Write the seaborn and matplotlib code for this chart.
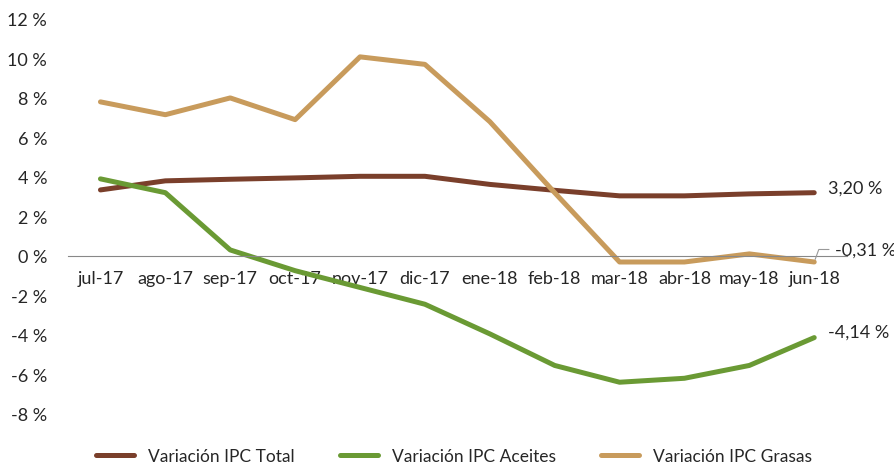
import pandas as pd
import matplotlib.pyplot as plt
import seaborn as sns

meses = ['jul-17', 'ago-17', 'sep-17', 'oct-17', 'nov-17', 'dic-17',
         'ene-18', 'feb-18', 'mar-18', 'abr-18', 'may-18', 'jun-18']
ipc_total = [3.34, 3.80, 3.88, 3.95, 4.03, 4.03, 3.62, 3.32, 3.04, 3.04, 3.14, 3.20]
ipc_aceites = [3.90, 3.20, 0.30, -0.75, -1.60, -2.45, -3.95, -5.55, -6.40, -6.20, -5.55, -4.14]
ipc_grasas = [7.80, 7.15, 8.00, 6.90, 10.08, 9.70, 6.80, 3.20, -0.31, -0.31, 0.10, -0.31]

series = ['Variación IPC Total', 'Variación IPC Aceites', 'Variación IPC Grasas']
colores = ['#7A3F2B', '#6A9A34', '#C89B5C']

df = pd.concat([
    pd.DataFrame({'mes': meses, 'valor': vals, 'serie': s})
    for s, vals in zip(series, [ipc_total, ipc_aceites, ipc_grasas])
])

sns.set_style('white')
plt.rcParams['font.family'] = ['Lato', 'DejaVu Sans']

fig = plt.figure(figsize=(8.95, 4.64), dpi=100)
ax = fig.add_axes([0.076, 0.106, 0.870, 0.851])

sns.lineplot(data=df, x='mes', y='valor', hue='serie', palette=colores,
             linewidth=3.6, ax=ax, sort=False)

ax.set_xlim(-0.5, len(meses) - 0.5)
ax.set_ylim(-8, 12)
ax.set_yticks(range(-8, 13, 2))
ax.set_yticklabels([f'{v} %' for v in range(-8, 13, 2)])
ax.set_xlabel('')
ax.set_ylabel('')

for side in ['top', 'right', 'left']:
    ax.spines[side].set_visible(False)
ax.spines['bottom'].set_position(('data', 0))
ax.spines['bottom'].set_color('#888888')
ax.set_xticks(range(len(meses)))
ax.set_xticklabels(meses)
ax.set_xticks([i - 0.5 for i in range(len(meses) + 1)], minor=True)
ax.tick_params(axis='x', which='major', length=0, pad=10, labelsize=13)
ax.tick_params(axis='x', which='minor', length=5, color='#888888', direction='in')
ax.tick_params(axis='y', length=0, labelsize=13, pad=15)

# etiquetas del ultimo dato
n = len(meses) - 1
ax.annotate('3,20 %', (n, ipc_total[-1]), xytext=(10, 4), textcoords='offset points',
            fontsize=13, va='center')
ax.annotate('-4,14 %', (n, ipc_aceites[-1]), xytext=(10, 4), textcoords='offset points',
            fontsize=13, va='center')
ax.annotate('-0,31 %', (n, ipc_grasas[-1]), xytext=(15, 9), textcoords='offset points',
            fontsize=13, va='center',
            arrowprops=dict(arrowstyle='-', color='#999999', lw=0.8,
                            connectionstyle='angle,angleA=0,angleB=70,rad=0'))

handles, labels = ax.get_legend_handles_labels()
ax.legend(handles, labels, loc='lower center', bbox_to_anchor=(0.507, -0.035),
          bbox_transform=fig.transFigure, ncol=3, frameon=False, fontsize=12.5,
          columnspacing=2.6, handlelength=2.2)

fig.savefig('out.png', dpi=100)
